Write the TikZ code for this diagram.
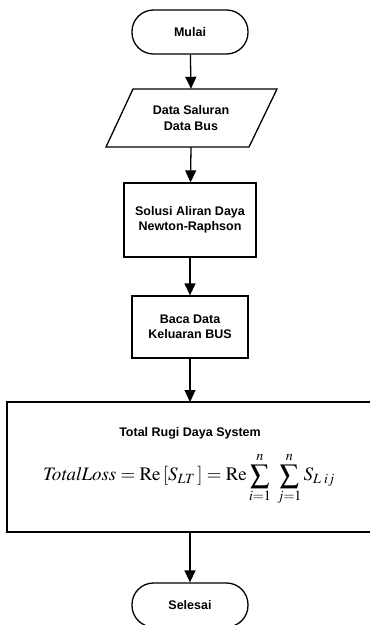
\documentclass[tikz,border=0pt]{standalone}
\usepackage{mathptmx}
\usepackage[no-math]{fontspec}
\setmainfont{Liberation Sans}
\usetikzlibrary{arrows.meta,calc}
\begin{document}
\begin{tikzpicture}[x=1pt,y=-1pt,
  lw/.style={line width=1.3pt},
  txt/.style={font=\bfseries\fontsize{12.5}{15.5}\selectfont, align=center, text=black},
  term/.style={txt, lw, draw, rectangle, rounded corners=21.5pt, minimum width=116pt, minimum height=44pt, inner sep=0pt},
  procbox/.style={txt, lw, draw, rectangle, inner sep=0pt},
  arr/.style={lw, -{Triangle[length=12pt,width=11pt]}}]
\clip (0,0) rectangle (370,625);
\node[term] (mulai) at (190,32) {Mulai};
\node[txt, minimum width=120pt, minimum height=58pt, inner sep=0pt] (data) at (191,118) {Data Saluran\\Data Bus};
\draw[lw] (133,89) -- (277,89) -- (249,147) -- (106,147) -- cycle;
\node[procbox, minimum width=132pt, minimum height=74pt] (solusi) at (190,220) {Solusi Aliran Daya\\Newton-Raphson};
\node[procbox, minimum width=116pt, minimum height=62pt] (baca) at (190,327) {Baca Data\\Keluaran BUS};
\node[lw, draw, rectangle, minimum width=370pt, minimum height=130pt, inner sep=0pt] (total) at (192,467) {};
\node[txt] (title) at (190,433) {Total Rugi Daya System};
\node[inner sep=0pt] (formula) at (189,479) {\fontsize{19}{22}\selectfont$\displaystyle \mathit{TotalLoss} = \mathrm{Re}\,[S_{LT}\,] = \mathrm{Re}\sum_{i=1}^{n}\;\sum_{j=1}^{n} S_{L\;ij}$};
\node[term] (selesai) at (190,605) {Selesai};
\draw[arr] (mulai) -- (data.north);
\draw[arr] (data.south) -- (solusi);
\draw[arr] (solusi) -- (baca);
\draw[arr] (baca) -- (190,402);
\draw[arr] (190,532) -- (selesai);
\end{tikzpicture}
\end{document}
